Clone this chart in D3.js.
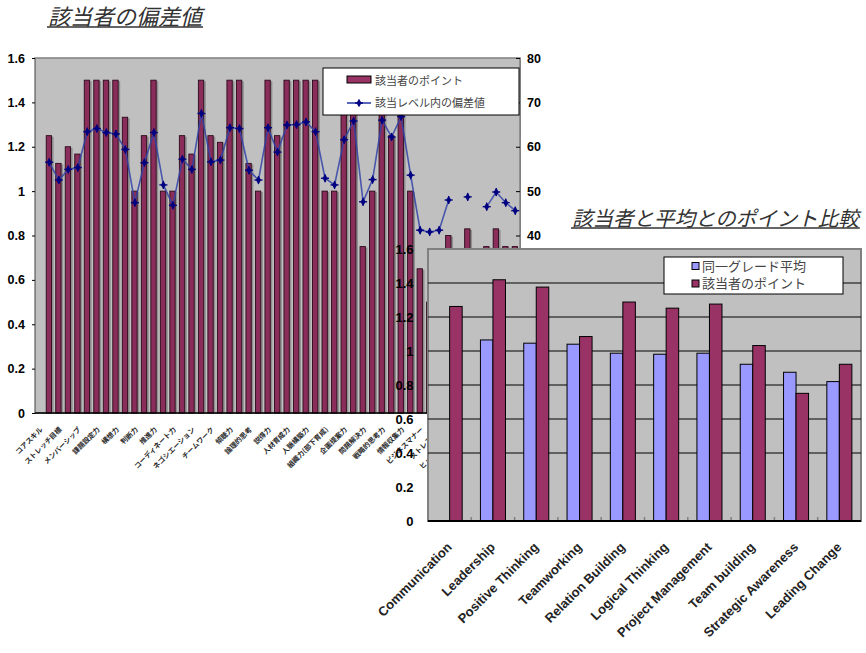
<!DOCTYPE html>
<html><head><meta charset="utf-8">
<script src="https://cdn.jsdelivr.net/npm/d3@7/dist/d3.min.js"></script>
<style>body{margin:0;background:#fff}svg{display:block}</style>
</head><body>
<svg id="c" width="866" height="653"></svg>
<script>
// ---------- data ----------
const title1 = "該当者の偏差値";
const title2 = "該当者と平均とのポイント比較";

const categories1 = [
  "コアスキル","チャレンジ精神","ストレッチ目標","リーダーシップ","メンバーシップ",
  "当事者意識","課題設定力","状況把握力","構想力","計画力",
  "判断力","実行力","推進力","柔軟性","コーディネート力",
  "調整力","ネゴシエーション","交渉力","チームワーク","協調性",
  "傾聴力","共感力","論理的思考","分析力","説得力",
  "表現力","人材育成力","指導力","人脈構築力","信頼関係構築",
  "組織力(部下育成)","動機付け","企画提案力","創造力","問題解決力",
  "改善力","戦略的思考力","先見性","情報収集力","情報活用力",
  "ビジネスマナー","自己管理","ストレス耐性","倫理観","ヒューマンスキル",
  "対人関係","テクニカルスキル","専門知識","業務知識","IT活用力","語学力"
];
const points1 = [
  null,1.25,1.125,1.2,1.167,1.5,1.5,1.5,1.5,1.333,
  1.0,1.25,1.5,1.0,1.0,1.25,1.167,1.5,1.25,1.22,
  1.5,1.5,1.125,1.0,1.5,1.25,1.5,1.5,1.5,1.5,
  1.0,1.0,1.5,1.5,0.75,1.0,1.5,1.25,1.5,1.0,
  0.65,0.5,0.5,0.8,null,0.83,null,0.75,0.83,0.75,0.75
];
const deviation1 = [
  null,56.5,52.5,54.9,55.3,63.4,64.1,63.2,62.9,59.4,
  47.4,56.4,63.2,51.4,46.8,57.2,54.9,67.5,56.6,57.0,
  64.3,64.1,54.7,52.5,64.3,58.8,64.9,65.0,65.6,63.4,
  52.9,51.4,61.6,65.8,47.6,52.6,66.0,62.2,66.8,53.6,
  41.2,40.8,41.2,48.0,null,48.7,null,46.5,49.8,47.4,45.6
];
const leftTicks1 = [0,0.2,0.4,0.6,0.8,1,1.2,1.4,1.6];
const rightTicks1 = [0,10,20,30,40,50,60,70,80];
const legend1 = ["該当者のポイント","該当レベル内の偏差値"];

const categories2 = ["Communication","Leadership","Positive Thinking","Teamworking","Relation Building",
  "Logical Thinking","Project Management","Team building","Strategic Awareness","Leading Change"];
const average2 = [null,1.065,1.046,1.04,0.987,0.981,0.987,0.922,0.875,0.82];
const points2 = [1.262,1.419,1.376,1.085,1.288,1.252,1.276,1.032,0.751,0.922];
const ticks2 = [0,0.2,0.4,0.6,0.8,1,1.2,1.4,1.6];
const grid2 = [0.4,0.6,0.8,1,1.2,1.4];
const legend2 = ["同一グレード平均","該当者のポイント"];

// ---------- styles ----------
const JP = "'Noto Sans CJK JP','Noto Sans',sans-serif";
const NUM = "'Liberation Sans',Arial,sans-serif";
const MAROON = "#993366", BLUE = "#9999ff", PLOTBG = "#c0c0c0";
const svg = d3.select("#c");

// ================= Chart 1 =================
const P1 = {l:35, r:520, t:58, b:413};
const x1 = d3.scaleBand().domain(d3.range(categories1.length)).range([P1.l, P1.r]);
const y1 = d3.scaleLinear().domain([0,1.6]).range([P1.b, P1.t]);
const y1r = d3.scaleLinear().domain([0,80]).range([P1.b, P1.t]);
const g1 = svg.append("g");
g1.append("rect").attr("x",P1.l).attr("y",P1.t).attr("width",P1.r-P1.l).attr("height",P1.b-P1.t)
  .attr("fill",PLOTBG).attr("stroke","#808080").attr("stroke-width",1.5);

const bw = x1.bandwidth();
const data1 = points1.map((v,i)=>({i, v, d: deviation1[i]}));
g1.selectAll("rect.sh").data(data1.filter(d=>d.v!=null)).join("rect").attr("class","sh")
  .attr("x",d=>x1(d.i)+bw*0.74).attr("y",d=>y1(d.v)+1)
  .attr("width",bw*0.22).attr("height",d=>P1.b-y1(d.v)-1).attr("fill","#8f8f8f");
g1.selectAll("rect.bar").data(data1.filter(d=>d.v!=null)).join("rect").attr("class","bar")
  .attr("x",d=>x1(d.i)+bw*0.18).attr("y",d=>y1(d.v))
  .attr("width",bw*0.56).attr("height",d=>P1.b-y1(d.v))
  .attr("fill","#8a2d5a").attr("stroke","#2a0a1a").attr("stroke-width",0.9);

const cx1 = i => x1(i)+bw/2;
const line1 = d3.line().defined(d=>d.d!=null).x(d=>cx1(d.i)).y(d=>y1r(d.d));
g1.append("path").datum(data1).attr("d",line1).attr("fill","none")
  .attr("stroke","#3343a8").attr("stroke-width",1.6).attr("opacity",0.85);
const mk = g1.selectAll("g.mk").data(data1.filter(d=>d.d!=null)).join("g").attr("class","mk")
  .attr("transform",d=>`translate(${cx1(d.i)},${y1r(d.d)})`);
mk.append("path").attr("d",d3.symbol(d3.symbolDiamond,22)).attr("fill","#000080");
mk.append("line").attr("x1",-4).attr("x2",4).attr("stroke","#000080").attr("stroke-width",1.4);
mk.append("line").attr("y1",-4).attr("y2",4).attr("stroke","#000080").attr("stroke-width",1.2);

const axL1 = g1.append("g").attr("transform",`translate(${P1.l},0)`)
  .call(d3.axisLeft(y1).tickValues(leftTicks1).tickSize(3).tickPadding(7).tickFormat(d=>String(d)));
axL1.select(".domain").attr("stroke","#808080");
axL1.selectAll("text").attr("font-family",NUM).attr("font-size",12.5).attr("font-weight","bold").attr("fill","#000");
const axR1 = g1.append("g").attr("transform",`translate(${P1.r},0)`)
  .call(d3.axisRight(y1r).tickValues(rightTicks1).tickSize(-4).tickPadding(7).tickFormat(d=>String(d)));
axR1.select(".domain").attr("stroke","#808080");
axR1.selectAll("text").attr("font-family",NUM).attr("font-size",12.5).attr("font-weight","bold").attr("fill","#000");
g1.append("line").attr("x1",P1.l).attr("x2",P1.r).attr("y1",P1.b).attr("y2",P1.b)
  .attr("stroke","#000").attr("stroke-width",1.6);

g1.selectAll("text.cl").data(categories1.map((c,i)=>({c,i})).filter(d=>d.i%2===0)).join("text")
  .attr("class","cl")
  .attr("transform",d=>`translate(${cx1(d.i)+3.5},${P1.b+17}) rotate(-45)`)
  .attr("text-anchor","end").attr("font-family",JP).attr("font-size",7).attr("font-weight","bold")
  .attr("fill","#2a2a2a").text(d=>d.c);

const L1 = g1.append("g");
L1.append("rect").attr("x",323).attr("y",68).attr("width",196).attr("height",47)
  .attr("fill","#fff").attr("stroke","#000").attr("stroke-width",1);
L1.append("rect").attr("x",347).attr("y",76).attr("width",24).attr("height",7)
  .attr("fill",MAROON).attr("stroke","#000").attr("stroke-width",1);
L1.append("line").attr("x1",347).attr("x2",371).attr("y1",103).attr("y2",103)
  .attr("stroke","#3343a8").attr("stroke-width",1.6);
L1.append("path").attr("transform","translate(359,103)").attr("d",d3.symbol(d3.symbolDiamond,22)).attr("fill","#000080");
L1.append("line").attr("x1",355).attr("x2",363).attr("y1",103).attr("y2",103).attr("stroke","#000080").attr("stroke-width",1.4);
L1.selectAll("text").data(legend1).join("text")
  .attr("x",375).attr("y",(d,i)=>i===0?81.5:103).attr("dy","0.35em")
  .attr("font-family",JP).attr("font-size",11).attr("fill","#444").text(d=>d);

function title(txt,x,y,size){
  const t = svg.append("text").attr("x",x).attr("y",y).attr("font-family",JP)
    .attr("font-size",size).attr("font-style","italic").attr("fill","#333").text(txt);
  const w = t.node().getComputedTextLength();
  svg.append("line").attr("x1",x-1).attr("x2",x+w+1).attr("y1",y+2.5).attr("y2",y+2.5)
    .attr("stroke","#333").attr("stroke-width",1.4);
}
title(title1,48,24.5,22);

// ================= Chart 2 =================
const P2 = {l:428, r:861, t:249, b:521};
const x2 = d3.scaleBand().domain(categories2).range([P2.l, P2.r]);
const xs = d3.scaleBand().domain(["avg","pt"]).range([0,x2.bandwidth()]).paddingOuter(0.73).paddingInner(0);
const y2 = d3.scaleLinear().domain([0,1.6]).range([P2.b, P2.t]);
const g2 = svg.append("g");
g2.append("rect").attr("x",P2.l).attr("y",P2.t).attr("width",P2.r-P2.l).attr("height",P2.b-P2.t)
  .attr("fill",PLOTBG).attr("stroke","#808080").attr("stroke-width",2);
g2.selectAll("line.gr").data(grid2).join("line").attr("class","gr")
  .attr("x1",P2.l).attr("x2",P2.r).attr("y1",d=>y2(d)).attr("y2",d=>y2(d))
  .attr("stroke","#000").attr("stroke-width",1);
const data2 = categories2.map((c,i)=>({c, avg:average2[i], pt:points2[i]}));
g2.selectAll("rect.avg").data(data2.filter(d=>d.avg!=null)).join("rect").attr("class","avg")
  .attr("x",d=>x2(d.c)+xs("avg")).attr("y",d=>y2(d.avg))
  .attr("width",xs.bandwidth()).attr("height",d=>P2.b-y2(d.avg))
  .attr("fill",BLUE).attr("stroke","#000").attr("stroke-width",1);
g2.selectAll("rect.pt").data(data2).join("rect").attr("class","pt")
  .attr("x",d=>x2(d.c)+xs("pt")).attr("y",d=>y2(d.pt))
  .attr("width",xs.bandwidth()).attr("height",d=>P2.b-y2(d.pt))
  .attr("fill",MAROON).attr("stroke","#000").attr("stroke-width",1);
g2.selectAll("line.ct").data(categories2.slice(1)).join("line").attr("class","ct")
  .attr("x1",d=>x2(d)).attr("x2",d=>x2(d)).attr("y1",P2.b).attr("y2",P2.b-4)
  .attr("stroke","#808080").attr("stroke-width",1.5);
g2.append("line").attr("x1",P2.l).attr("x2",P2.r).attr("y1",P2.b).attr("y2",P2.b)
  .attr("stroke","#000").attr("stroke-width",2);
const axL2 = g2.append("g").attr("transform",`translate(${P2.l},0)`)
  .call(d3.axisLeft(y2).tickValues(ticks2).tickSize(0).tickPadding(14.5).tickFormat(d=>String(d)));
axL2.select(".domain").remove();
axL2.selectAll("text").attr("font-family",NUM).attr("font-size",13).attr("font-weight","bold").attr("fill","#000");

g2.selectAll("text.xl").data(categories2).join("text").attr("class","xl")
  .attr("transform",d=>`translate(${x2(d)+x2.bandwidth()/2+3},${P2.b+27}) rotate(-45)`)
  .attr("text-anchor","end").attr("font-family",NUM).attr("font-size",13).attr("font-weight","bold")
  .attr("fill","#222").text(d=>d);

const L2 = g2.append("g");
L2.append("rect").attr("x",664).attr("y",257).attr("width",179).attr("height",37)
  .attr("fill","#fff").attr("stroke","#000").attr("stroke-width",1);
L2.selectAll("rect.sw").data(legend2).join("rect").attr("class","sw")
  .attr("x",692).attr("y",(d,i)=>262.5+i*17.5).attr("width",7).attr("height",7)
  .attr("fill",(d,i)=>i===0?BLUE:MAROON).attr("stroke","#000").attr("stroke-width",1);
L2.selectAll("text").data(legend2).join("text")
  .attr("x",702).attr("y",(d,i)=>266+i*17.5).attr("dy","0.35em")
  .attr("font-family",JP).attr("font-size",13).attr("fill","#444").text(d=>d);

title(title2,572,225.5,20.5);
</script>
</body></html>
